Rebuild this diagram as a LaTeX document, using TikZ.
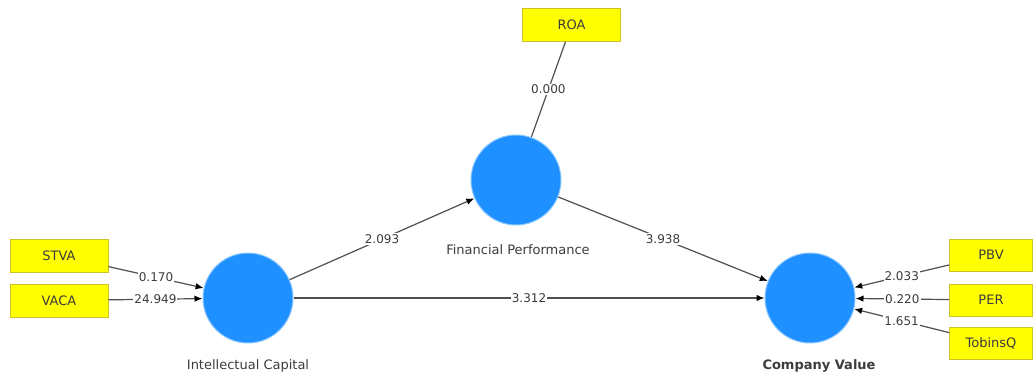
\documentclass[tikz,border=0pt]{standalone}
\usepackage{fontspec}
\setmainfont{DejaVu Sans}
\usetikzlibrary{arrows.meta}
\definecolor{lvblue}{RGB}{30,144,255}
\definecolor{lvrim}{RGB}{140,200,255}
\definecolor{indyel}{RGB}{255,255,0}
\definecolor{indedge}{RGB}{205,195,40}
\definecolor{edgegray}{RGB}{80,80,80}
\definecolor{txtgray}{RGB}{60,60,60}
\begin{document}
\begin{tikzpicture}[x=1pt,y=-1pt,
  latent/.style={circle,fill=lvblue,draw=lvrim,line width=1pt,minimum size=90pt,inner sep=0pt},
  indicator/.style={rectangle,fill=indyel,draw=indedge,line width=0.7pt,minimum width=98pt,minimum height=33pt,inner sep=0pt,font=\fontsize{13}{15}\selectfont,text=txtgray},
  rindicator/.style={indicator,minimum width=83pt,minimum height=32pt},
  lvlabel/.style={font=\fontsize{13}{15}\selectfont,text=txtgray},
  conn/.style={draw=edgegray,line width=1.2pt},
  arr/.style={conn,-{Latex[length=8pt,width=6.5pt,black]}},
  val/.style={fill=white,inner sep=1pt,font=\fontsize{12}{14}\selectfont,text=txtgray}
]
\useasboundingbox[fill=white] (0,0) rectangle (1036,377);
% latent variables
\node[latent] (ic) at (248,298) {};
\node[latent] (fp) at (516,180) {};
\node[latent] (cv) at (810,298) {};
% labels
\node[lvlabel] (icl) at (248,366) {Intellectual Capital};
\node[lvlabel] (fpl) at (518,250) {Financial Performance};
\node[lvlabel,font=\fontsize{13}{15}\selectfont\bfseries] (cvl) at (819,366) {Company Value};
% indicators
\node[indicator] (stva) at (59,255.5) {STVA};
\node[indicator] (vaca) at (59,300.5) {VACA};
\node[indicator] (roa) at (571.5,25) {ROA};
\node[rindicator] (pbv) at (991,255) {PBV};
\node[rindicator] (per) at (991,300) {PER};
\node[rindicator] (tq) at (991,343) {TobinsQ};
% connectors
\draw[conn] (roa) -- node[val,pos=0.5] {0.000} (fp);
\draw[arr] (stva) -- node[val] {0.170} (ic);
\draw[arr] (vaca) -- node[val] {24.949} (ic);
\draw[arr] (ic) -- node[val] {2.093} (fp);
\draw[arr] (fp) -- node[val] {3.938} (cv);
\draw[arr] (ic) -- node[val] {3.312} (cv);
\draw[arr] (pbv) -- node[val] {2.033} (cv);
\draw[arr] (per) -- node[val] {0.220} (cv);
\draw[arr] (tq) -- node[val] {1.651} (cv);
\end{tikzpicture}
\end{document}
